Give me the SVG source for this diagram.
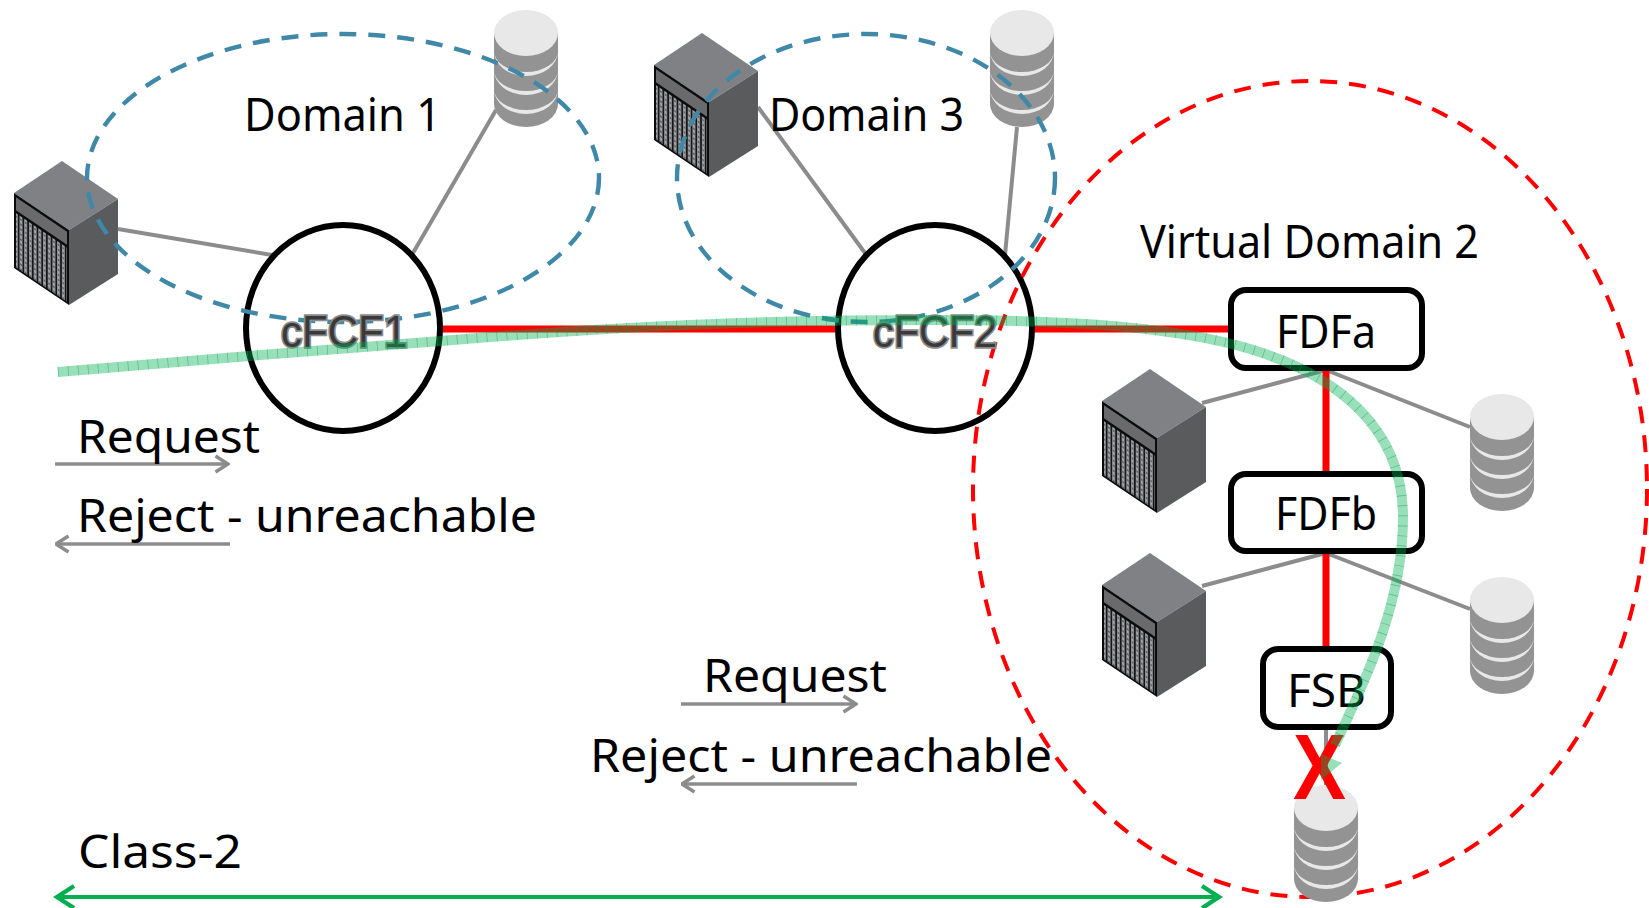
<svg xmlns="http://www.w3.org/2000/svg" width="1649" height="908" viewBox="0 0 1649 908">
<style>
text{font-family:"Noto Sans","Open Sans","DejaVu Sans",sans-serif;font-size:45px;fill:#000}
.lab{font-family:"Liberation Sans",Arial,sans-serif;font-size:45px;fill:#3a3a3a;stroke:#8c8c8c;stroke-width:3.5px;paint-order:stroke}
.gray{stroke:#8c8c8c;stroke-width:4;fill:none}
.gray2{stroke:#8c8c8c;stroke-width:3.5;fill:none}
.red{stroke:#f00;stroke-width:7;fill:none}
.box{fill:#fff;stroke:#000;stroke-width:6}
.sw{fill:none;stroke:#000;stroke-width:6}
.blue{fill:none;stroke:#3f88a8;stroke-width:4.4;stroke-dasharray:17 12}
.rd{fill:none;stroke:#f00;stroke-width:4;stroke-dasharray:17 12}
.band{fill:none;stroke:#00b050;stroke-opacity:.4;stroke-width:10}
.tick{fill:none;stroke:#00a04a;stroke-opacity:.5;stroke-width:10;stroke-dasharray:.7 9.3}
</style>
<defs>
<marker id="open" viewBox="0 0 16 20" refX="14.5" refY="10" markerWidth="16" markerHeight="20" markerUnits="userSpaceOnUse" orient="auto-start-reverse"><path d="M2 2L14.5 10L2 18" fill="none" stroke="#8c8c8c" stroke-width="3.4"/></marker>
<marker id="openG" viewBox="0 0 24 26" refX="21" refY="13" markerWidth="24" markerHeight="26" markerUnits="userSpaceOnUse" orient="auto-start-reverse"><path d="M3 2L20 13L3 24" fill="none" stroke="#00b050" stroke-width="4.4"/></marker>
<pattern id="slat" width="4.7" height="5" patternUnits="userSpaceOnUse"><rect width="4.7" height="5" fill="#161616"/><rect x=".9" width="2.8" height="5" fill="#a3a5a8"/><rect x="1.5" y="1" width="1.5" height="2" fill="#5c5d61"/></pattern>
<g id="srv">
<path d="M0 32L48 0L104 38L55 69Z" fill="#808184"/>
<path d="M55 69L104 38V113L55 144Z" fill="#5a5b5d"/>
<g transform="matrix(1 .673 0 1 0 32)">
<rect width="55" height="75" fill="#0c0c0c"/>
<rect x="2" y="3" width="51" height="13" fill="#6a6a6d"/>
<rect x="2" y="19" width="51" height="54" fill="url(#slat)"/>
</g>
</g>
<g id="cyl">
<path d="M0 23H64V94A32 23 0 0 1 0 94Z" fill="#939393"/>
<ellipse cx="32" cy="23" rx="32" ry="23" fill="#e8e8e8"/>
<path d="M0 41A32 21 0 0 0 64 41A32 25 0 0 1 0 41Z" fill="#e8e8e8"/>
<path d="M0 60A32 21 0 0 0 64 60A32 25 0 0 1 0 60Z" fill="#e8e8e8"/>
<path d="M0 79A32 21 0 0 0 64 79A32 25 0 0 1 0 79Z" fill="#e8e8e8"/>
</g>
</defs>
<rect width="1649" height="908" fill="#fff"/>
<g id="connectors">
<path class="gray" d="M118 229L272 255M496 110L413 253M758 107L865 253M1017 127L1005 255M1326 370L1202 403M1326 370L1470 427M1326 553L1202 586M1326 553L1470 609"/>
<path class="gray" d="M1326 728V785"/>
<path class="red" d="M441 329H837M1033 329H1231M1326 369V472M1326 552V649"/>
<path class="gray2" marker-end="url(#open)" d="M55 464H228"/>
<path class="gray2" marker-start="url(#open)" d="M56 544H230"/>
<path class="gray2" marker-end="url(#open)" d="M681 704H856"/>
<path class="gray2" marker-start="url(#open)" d="M682 784H857"/>
<path fill="none" stroke="#00b050" stroke-width="4" marker-start="url(#openG)" marker-end="url(#openG)" d="M56 897H1220"/>
</g>
<g id="server1"><use href="#srv" x="14" y="161"/></g>
<g id="server2"><use href="#srv" x="654" y="33"/></g>
<g id="server3"><use href="#srv" x="1102" y="369"/></g>
<g id="server4"><use href="#srv" x="1102" y="553"/></g>
<g id="storage1"><use href="#cyl" x="494" y="10"/></g>
<g id="storage2"><use href="#cyl" x="990" y="10"/></g>
<g id="storage3"><use href="#cyl" x="1470" y="394"/></g>
<g id="storage4"><use href="#cyl" x="1470" y="577"/></g>
<g id="cfcf1"><ellipse class="sw" cx="343" cy="328" rx="97" ry="103"/></g>
<g id="cfcf2"><ellipse class="sw" cx="935" cy="328" rx="97" ry="103"/></g>
<g id="fdfa"><rect class="box" x="1231" y="290" width="191" height="78" rx="15"/><text x="1276" y="348" textLength="100" lengthAdjust="spacingAndGlyphs">FDFa</text></g>
<g id="fdfb"><rect class="box" x="1231" y="474" width="191" height="77" rx="15"/><text x="1275" y="530" textLength="102" lengthAdjust="spacingAndGlyphs">FDFb</text></g>
<g id="fsb"><rect class="box" x="1263" y="649" width="128" height="78" rx="15"/><text x="1287" y="707" textLength="79" lengthAdjust="spacingAndGlyphs">FSB</text></g>
<g id="domain1"><ellipse class="blue" cx="343" cy="178" rx="256" ry="144"/><text x="244" y="131" textLength="197" lengthAdjust="spacingAndGlyphs">Domain 1</text></g>
<g id="domain3"><ellipse class="blue" cx="866" cy="178" rx="189" ry="144"/><text x="769" y="131" textLength="195" lengthAdjust="spacingAndGlyphs">Domain 3</text></g>
<g id="domain2"><ellipse class="rd" cx="1310" cy="489" rx="337" ry="408"/><text x="1140" y="258" textLength="339" lengthAdjust="spacingAndGlyphs">Virtual Domain 2</text></g>
<g id="storage5"><use href="#cyl" x="1294" y="785"/></g>
<g id="labels">
<text class="lab" x="281" y="347" textLength="126" lengthAdjust="spacingAndGlyphs">cFCF1</text>
<text class="lab" x="873" y="347" textLength="124" lengthAdjust="spacingAndGlyphs">cFCF2</text>
<text x="77" y="453" textLength="183" lengthAdjust="spacingAndGlyphs">Request</text>
<text x="77" y="532" textLength="460" lengthAdjust="spacingAndGlyphs">Reject - unreachable</text>
<text x="703" y="692" textLength="184" lengthAdjust="spacingAndGlyphs">Request</text>
<text x="590" y="772" textLength="462" lengthAdjust="spacingAndGlyphs">Reject - unreachable</text>
<text x="78" y="868" textLength="164" lengthAdjust="spacingAndGlyphs">Class-2</text>
<text x="1293" y="799" textLength="53" lengthAdjust="spacingAndGlyphs" style="font-family:'Liberation Sans',Arial,sans-serif;font-size:92px;font-weight:bold;fill:#f00">X</text>
</g>
<g id="flow">
<path class="band" d="M58 372L249 356L441 341C620 326 760 320 935 320C1080 320 1180 328 1250 349C1340 376 1403 430 1403 517C1403 600 1370 670 1335 745"/>
<path class="tick" d="M58 372L249 356L441 341C620 326 760 320 935 320C1080 320 1180 328 1250 349C1340 376 1403 430 1403 517C1403 600 1370 670 1335 745"/>
<path d="M1321 754L1342 763L1321 780Z" fill="#00b050" fill-opacity=".4"/>
</g>
</svg>
